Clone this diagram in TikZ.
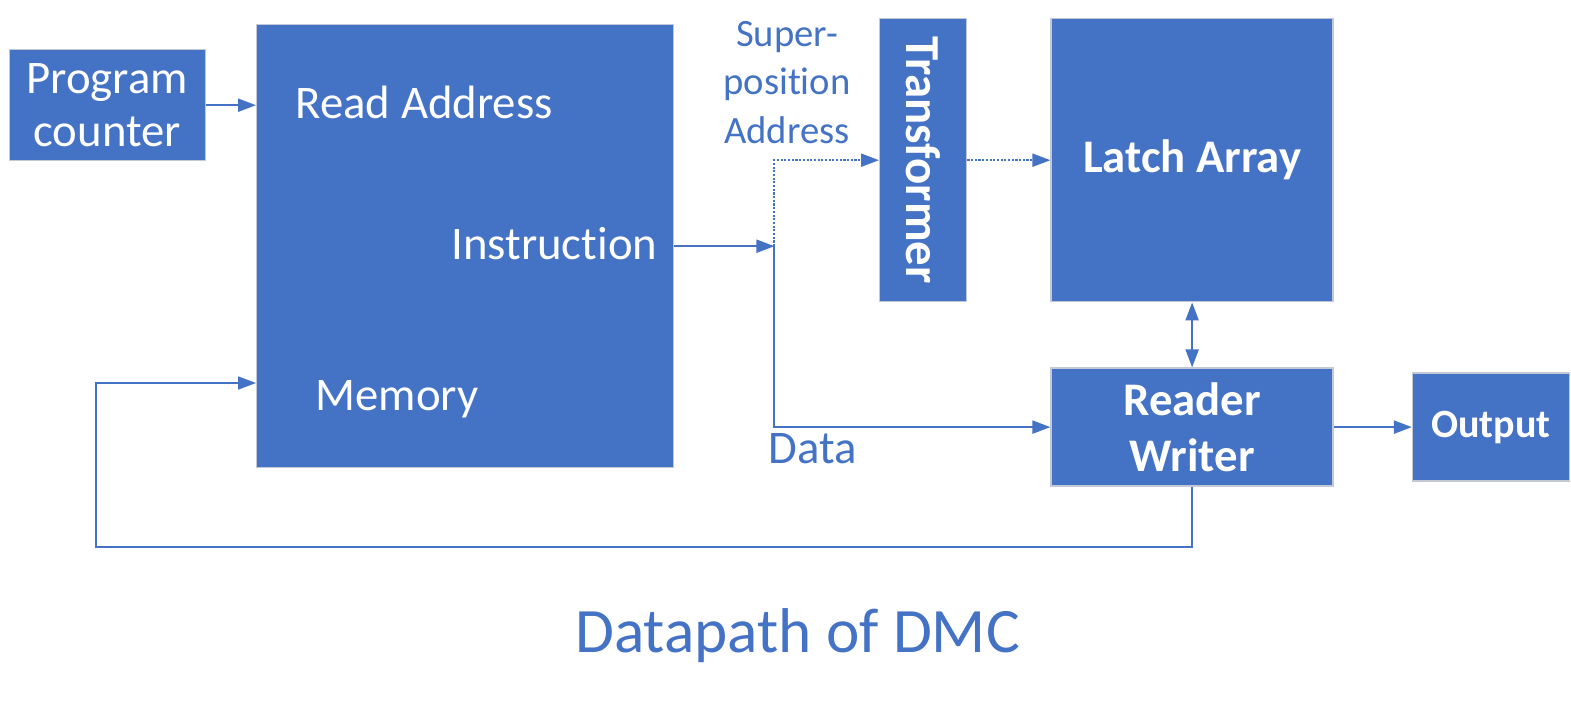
\documentclass[tikz,border=0pt]{standalone}
\usepackage{fontspec}
\setmainfont{Carlito}[Ligatures={NoCommon}]
\usetikzlibrary{positioning,arrows.meta}
\definecolor{dmcblue}{HTML}{4472C4}
\definecolor{dmcedge}{HTML}{C3C9D4}

\tikzset{
  block/.style={draw=dmcedge, line width=0.4pt, fill=dmcblue, text=white,
    inner sep=0pt, align=center},
  inlabel/.style={text=white, inner sep=0pt, font=\fontsize{13.3}{15}\selectfont},
  outlabel/.style={text=dmcblue, inner sep=0pt},
  boldlabel/.style={font=\fontsize{13.3}{16}\selectfont\bfseries},
  wire/.style={draw=dmcblue, line width=0.6pt},
  flow/.style={-{Triangle[length=0.18cm,width=0.13cm]}},
  dotline/.style={dash pattern=on 0.6pt off 0.45pt},
}

\begin{document}
\begin{tikzpicture}
  \useasboundingbox (0,0) rectangle (15.71,-7.02);
  \node [block, minimum width=4.17cm, minimum height=4.43cm, anchor=north west] (mem) at (2.56,-0.24) {};
  \node [block, minimum width=1.96cm, minimum height=1.11cm, below left=0.25cm and 0.5cm of mem.north west,
    font=\fontsize{13.3}{15}\selectfont] (pc) {Program\\counter};
  \node [block, minimum width=0.87cm, minimum height=2.83cm, anchor=north west] (trans) at (8.79,-0.18) {};
  \node [text=white, inner sep=0pt, rotate=-90, font=\fontsize{13.9}{16}\selectfont\bfseries] (translbl) at (trans.center) {Transformer};
  \node [block, minimum width=2.82cm, minimum height=2.83cm, right=0.83cm of trans, boldlabel] (latch) {Latch Array};
  \node [block, minimum width=2.82cm, minimum height=1.18cm, below=0.65cm of latch, boldlabel] (rw) {Reader\\Writer};
  \node [block, minimum width=1.57cm, minimum height=1.08cm, right=0.78cm of rw,
    font=\fontsize{11.4}{14}\selectfont\bfseries] (out) {Output};

  \node [inlabel, anchor=base west] (rdaddr) at (2.95,-1.19) {Read Address};
  \node [inlabel, anchor=base east] (instr) at (6.58,-2.60) {Instruction};
  \node [inlabel, anchor=base west] (memlbl) at (3.15,-4.10) {Memory};
  \node [outlabel, align=center, font=\fontsize{11}{13.7}\selectfont] (spaddr) at (7.87,-0.825) {Super-\\position\\Address};
  \node [outlabel, anchor=base west, font=\fontsize{13.3}{15}\selectfont] (datalbl) at (7.68,-4.63) {Data};
  \node [outlabel, anchor=base, font=\fontsize{18}{22}\selectfont] (caption) at (7.975,-6.52) {Datapath of DMC};

  \coordinate [right=1cm of mem.east] (jn);
  \coordinate (fbl) at (0.96,-5.47);
  \coordinate (memin) at (2.56,-3.83);

  \draw [wire, flow] (pc) -- (pc -| mem.west);
  \draw [wire, flow] (mem.east) -- (jn);
  \draw [wire, dotline, flow] (jn) |- (trans.west);
  \draw [wire, dotline, flow] (trans) -- (latch);
  \draw [wire, flow] (jn) |- (rw.west);
  \draw [wire, {Triangle[length=0.18cm,width=0.13cm]}-{Triangle[length=0.18cm,width=0.13cm]}] (latch) -- (rw);
  \draw [wire, flow] (rw) -- (out);
  \draw [wire, line width=0.45pt, flow] (rw.south) |- (fbl) |- (memin);
\end{tikzpicture}
\end{document}
